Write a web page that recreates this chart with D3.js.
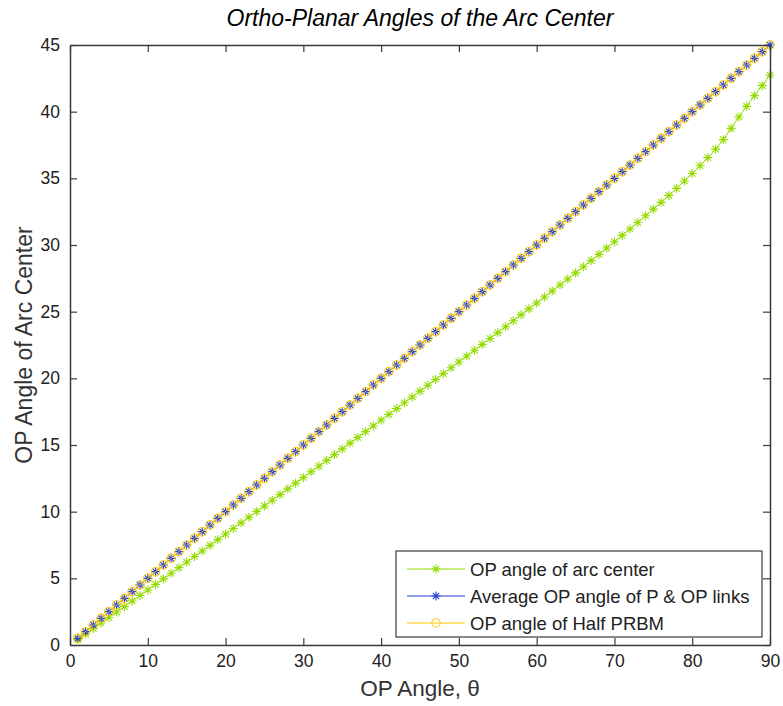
<!DOCTYPE html>
<html>
<head>
<meta charset="utf-8">
<script src="https://cdn.jsdelivr.net/npm/d3@7"></script>
<style>
  body { margin: 0; background: #fff; }
  svg { display: block; font-family: "Liberation Sans", Arial, sans-serif; }
</style>
</head>
<body>
<div id="chart"></div>
<script>
// OP angle theta (deg)
var theta = [1,2,3,4,5,6,7,8,9,10,11,12,13,14,15,16,17,18,19,20,
  21,22,23,24,25,26,27,28,29,30,31,32,33,34,35,36,37,38,39,40,
  41,42,43,44,45,46,47,48,49,50,51,52,53,54,55,56,57,58,59,60,
  61,62,63,64,65,66,67,68,69,70,71,72,73,74,75,76,77,78,79,80,
  81,82,83,84,85,86,87,88,89,90];

// OP angle of arc center
var arcCenter = [0.41,0.82,1.23,1.65,2.06,2.47,2.88,3.30,3.71,4.13,
  4.55,4.96,5.38,5.80,6.22,6.64,7.05,7.47,7.90,8.32,
  8.74,9.16,9.58,10.01,10.43,10.86,11.28,11.71,12.14,12.56,
  12.99,13.42,13.85,14.28,14.71,15.14,15.57,16.00,16.43,16.87,
  17.30,17.73,18.17,18.60,19.04,19.48,19.91,20.35,20.79,21.23,
  21.67,22.11,22.55,22.99,23.43,23.87,24.32,24.76,25.21,25.65,
  26.10,26.55,27.00,27.45,27.91,28.37,28.83,29.30,29.77,30.24,
  30.72,31.20,31.69,32.19,32.69,33.20,33.72,34.25,34.80,35.36,
  35.94,36.55,37.19,37.90,38.75,39.60,40.40,41.20,41.95,42.75];

// Average OP angle of P & OP links
var avgLinks = [0.5,1,1.5,2,2.5,3,3.5,4,4.5,5,5.5,6,6.5,7,7.5,8,8.5,9,9.5,10,
  10.5,11,11.5,12,12.5,13,13.5,14,14.5,15,15.5,16,16.5,17,17.5,18,18.5,19,19.5,20,
  20.5,21,21.5,22,22.5,23,23.5,24,24.5,25,25.5,26,26.5,27,27.5,28,28.5,29,29.5,30,
  30.5,31,31.5,32,32.5,33,33.5,34,34.5,35,35.5,36,36.5,37,37.5,38,38.5,39,39.5,40,
  40.5,41,41.5,42,42.5,43,43.5,44,44.5,45];

// OP angle of Half PRBM
var halfPrbm = [0.5,1,1.5,2,2.5,3,3.5,4,4.5,5,5.5,6,6.5,7,7.5,8,8.5,9,9.5,10,
  10.5,11,11.5,12,12.5,13,13.5,14,14.5,15,15.5,16,16.5,17,17.5,18,18.5,19,19.5,20,
  20.5,21,21.5,22,22.5,23,23.5,24,24.5,25,25.5,26,26.5,27,27.5,28,28.5,29,29.5,30,
  30.5,31,31.5,32,32.5,33,33.5,34,34.5,35,35.5,36,36.5,37,37.5,38,38.5,39,39.5,40,
  40.5,41,41.5,42,42.5,43,43.5,44,44.5,45];

var xTicks = [0,10,20,30,40,50,60,70,80,90];
var yTicks = [0,5,10,15,20,25,30,35,40,45];

var series = [
  { name: 'OP angle of arc center', values: arcCenter, color: '#94dc00', marker: 'star' },
  { name: 'Average OP angle of P & OP links', values: avgLinks, color: '#2341d2', marker: 'star' },
  { name: 'OP angle of Half PRBM', values: halfPrbm, color: '#ffc800', marker: 'circle' }
];

var width = 783, height = 706;
var margin = { top: 45, right: 13, bottom: 61, left: 70 };
var iw = width - margin.left - margin.right;
var ih = height - margin.top - margin.bottom;
var axisColor = '#3a3a3a';

var svg = d3.select('#chart').append('svg')
  .attr('width', width)
  .attr('height', height);

var x = d3.scaleLinear().domain([0, 90]).range([0, iw]);
var y = d3.scaleLinear().domain([0, 45]).range([ih, 0]);

var g = svg.append('g').attr('transform', 'translate(' + margin.left + ',' + margin.top + ')');

// Title
svg.append('text')
  .attr('x', margin.left + iw / 2)
  .attr('y', 26)
  .attr('text-anchor', 'middle')
  .style('font-size', '23px')
  .style('font-style', 'italic')
  .text('Ortho-Planar Angles of the Arc Center');

// star marker path (MATLAB '*')
function starPath(r) {
  var d = r * 0.7071;
  return 'M' + (-r) + ',0L' + r + ',0M0,' + (-r) + 'L0,' + r +
    'M' + (-d) + ',' + (-d) + 'L' + d + ',' + d +
    'M' + (-d) + ',' + d + 'L' + d + ',' + (-d);
}

var line = d3.line()
  .x(function (d) { return x(d[0]); })
  .y(function (d) { return y(d[1]); });

series.forEach(function (s) {
  var pts = theta.map(function (t, i) { return [t, s.values[i]]; });
  g.append('path')
    .datum(pts)
    .attr('fill', 'none')
    .attr('stroke', s.color)
    .attr('stroke-width', 1)
    .attr('d', line);

  if (s.marker === 'star') {
    g.append('g').selectAll('path')
      .data(pts)
      .enter().append('path')
      .attr('transform', function (d) { return 'translate(' + x(d[0]) + ',' + y(d[1]) + ')'; })
      .attr('d', starPath(4.5))
      .attr('stroke', s.color)
      .attr('stroke-width', 1.1)
      .attr('fill', 'none');
  } else {
    g.append('g').selectAll('circle')
      .data(pts)
      .enter().append('circle')
      .attr('cx', function (d) { return x(d[0]); })
      .attr('cy', function (d) { return y(d[1]); })
      .attr('r', 4.2)
      .attr('stroke', s.color)
      .attr('stroke-width', 1.1)
      .attr('fill', 'none');
  }
});

// Axes box with inward ticks
var tickLen = 7;
var xAxisB = d3.axisBottom(x).tickValues(xTicks).tickSizeInner(-tickLen).tickSizeOuter(0).tickPadding(10);
var xAxisT = d3.axisTop(x).tickValues(xTicks).tickSizeInner(-tickLen).tickSizeOuter(0).tickFormat('');
var yAxisL = d3.axisLeft(y).tickValues(yTicks).tickSizeInner(-tickLen).tickSizeOuter(0).tickPadding(10);
var yAxisR = d3.axisRight(y).tickValues(yTicks).tickSizeInner(-tickLen).tickSizeOuter(0).tickFormat('');

function styleAxis(sel) {
  sel.selectAll('.domain').attr('stroke', axisColor).attr('stroke-width', 1.5);
  sel.selectAll('.tick line').attr('stroke', axisColor).attr('stroke-width', 1.2);
  sel.selectAll('.tick text').attr('fill', '#222').style('font-size', '17.5px').style('font-family', '"Liberation Sans", Arial, sans-serif');
}

g.append('g').attr('transform', 'translate(0,' + ih + ')').call(xAxisB).call(styleAxis);
g.append('g').call(xAxisT).call(styleAxis);
g.append('g').call(yAxisL).call(styleAxis);
g.append('g').attr('transform', 'translate(' + iw + ',0)').call(yAxisR).call(styleAxis);

// Axis labels
svg.append('text')
  .attr('x', margin.left + iw / 2)
  .attr('y', 696)
  .attr('text-anchor', 'middle')
  .style('font-size', '22.5px')
  .attr('fill', '#333')
  .text('OP Angle, \u03b8');

svg.append('text')
  .attr('transform', 'translate(32,' + (margin.top + ih / 2) + ') rotate(-90)')
  .attr('text-anchor', 'middle')
  .style('font-size', '23px')
  .attr('fill', '#333')
  .text('OP Angle of Arc Center');

// Legend
var lg = svg.append('g').attr('transform', 'translate(396,551)');
lg.append('rect')
  .attr('width', 366)
  .attr('height', 86)
  .attr('fill', '#fff')
  .attr('stroke', axisColor)
  .attr('stroke-width', 1.2);

series.forEach(function (s, i) {
  var ry = 18 + i * 27;
  var row = lg.append('g').attr('transform', 'translate(0,' + ry + ')');
  row.append('line')
    .attr('x1', 11).attr('x2', 69)
    .attr('y1', 0).attr('y2', 0)
    .attr('stroke', s.color).attr('stroke-width', 1);
  if (s.marker === 'star') {
    row.append('path')
      .attr('transform', 'translate(40,0)')
      .attr('d', starPath(4.5))
      .attr('stroke', s.color).attr('stroke-width', 1.1).attr('fill', 'none');
  } else {
    row.append('circle')
      .attr('cx', 40).attr('cy', 0).attr('r', 4.2)
      .attr('stroke', s.color).attr('stroke-width', 1.1).attr('fill', 'none');
  }
  row.append('text')
    .attr('x', 74)
    .attr('y', 6.5)
    .style('font-size', '18.5px')
    .attr('fill', '#222')
    .text(s.name);
});
</script>
</body>
</html>
